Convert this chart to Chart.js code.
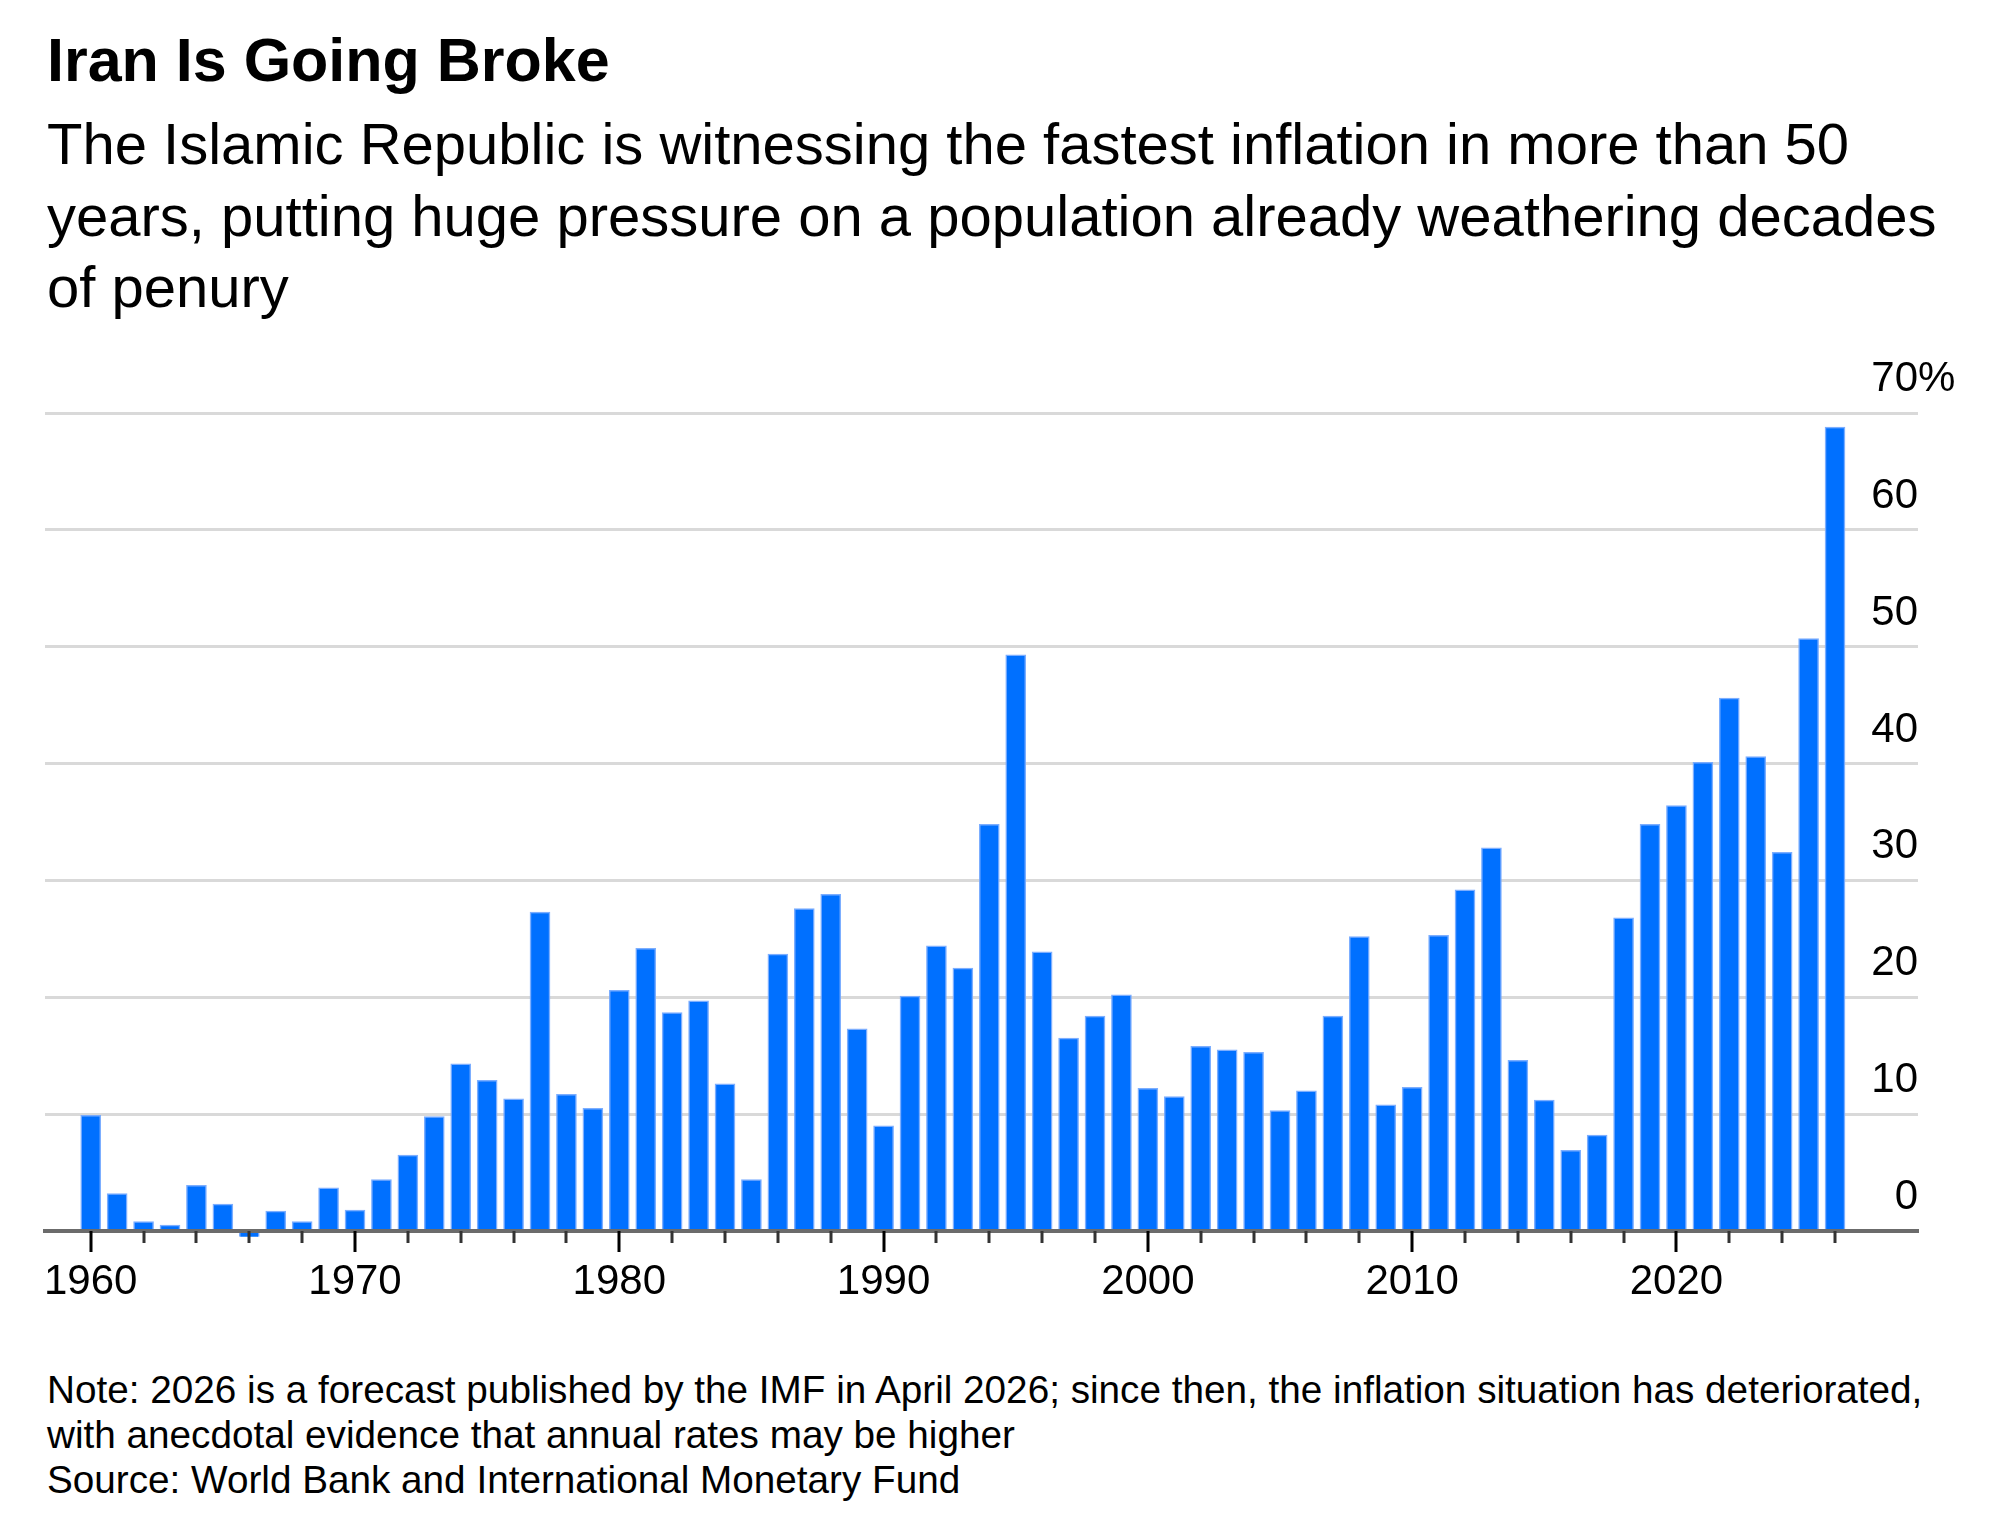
<!DOCTYPE html>
<html>
<head>
<meta charset="utf-8">
<title>Iran Is Going Broke</title>
<script src="https://cdn.jsdelivr.net/npm/chart.js@4.4.1/dist/chart.umd.min.js"></script>
<style>
    html, body {
        margin: 0;
        padding: 0;
        background: #ffffff;
    }
    body {
        width: 2000px;
        height: 1537px;
        position: relative;
        overflow: hidden;
        font-family: 'Liberation Sans', Arial, sans-serif;
        color: #000000;
    }
    .title {
        position: absolute;
        left: 47px;
        top: 30px;
        font-size: 61px;
        line-height: 61px;
        font-weight: bold;
        white-space: nowrap;
    }
    .subtitle {
        position: absolute;
        left: 47px;
        top: 108px;
        font-size: 58px;
        line-height: 71.5px;
        white-space: nowrap;
    }
    .footer {
        position: absolute;
        left: 47px;
        top: 1367px;
        font-size: 38.7px;
        line-height: 45px;
        white-space: nowrap;
    }
    #chartBox {
        position: absolute;
        left: 0;
        top: 330px;
        width: 2000px;
        height: 1010px;
    }
</style>
</head>
<body>
<div class="title">Iran Is Going Broke</div>
<div class="subtitle">The Islamic Republic is witnessing the fastest inflation in more than 50<br>years, putting huge pressure on a population already weathering decades<br>of penury</div>
<div id="chartBox"><canvas id="inflationChart" width="2000" height="1010"></canvas></div>
<div class="footer">Note: 2026 is a forecast published by the IMF in April 2026; since then, the inflation situation has deteriorated,<br>with anecdotal evidence that annual rates may be higher<br>Source: World Bank and International Monetary Fund</div>

<script>
// Data (annual inflation, %)
const years = [
    1960, 1961, 1962, 1963, 1964, 1965, 1966, 1967, 1968, 1969,
    1970, 1971, 1972, 1973, 1974, 1975, 1976, 1977, 1978, 1979,
    1980, 1981, 1982, 1983, 1984, 1985, 1986, 1987, 1988, 1989,
    1990, 1991, 1992, 1993, 1994, 1995, 1996, 1997, 1998, 1999,
    2000, 2001, 2002, 2003, 2004, 2005, 2006, 2007, 2008, 2009,
    2010, 2011, 2012, 2013, 2014, 2015, 2016, 2017, 2018, 2019,
    2020, 2021, 2022, 2023, 2024, 2025, 2026
];
const inflation = [
    9.9, 3.2, 0.8, 0.5, 3.9, 2.3, -0.5, 1.7, 0.8, 3.7,
    1.8, 4.4, 6.5, 9.8, 14.3, 12.9, 11.3, 27.3, 11.7, 10.5,
    20.6, 24.2, 18.7, 19.7, 12.6, 4.4, 23.7, 27.6, 28.8, 17.3,
    9.0, 20.1, 24.4, 22.5, 34.8, 49.3, 23.9, 16.5, 18.4, 20.2,
    12.2, 11.5, 15.8, 15.5, 15.3, 10.3, 12.0, 18.4, 25.2, 10.8,
    12.3, 25.3, 29.2, 32.8, 14.6, 11.2, 6.9, 8.2, 26.8, 34.8,
    36.4, 40.1, 45.6, 40.6, 32.4, 50.7, 68.8
];
// Labelled years on the x axis, and the years that get a tick mark
const decadeLabels = [1960, 1970, 1980, 1990, 2000, 2010, 2020];
const tickYears = [
    1960, 1962, 1964, 1966, 1968, 1970, 1972, 1974, 1976, 1978,
    1980, 1982, 1984, 1986, 1988, 1990, 1992, 1994, 1996, 1998,
    2000, 2002, 2004, 2006, 2008, 2010, 2012, 2014, 2016, 2018,
    2020, 2022, 2024, 2026
];
// Gridline values on the y axis
const yTicks = [0, 10, 20, 30, 40, 50, 60, 70];

const BAR_BLUE = '#0070ff';
const LABEL_FONT = "42px 'Liberation Sans', Arial, sans-serif";

/**
 * Draw the x tick marks (long at decades, short every other year)
 */
const tickMarksPlugin = {
    id: 'tickMarks',
    afterDraw(chart) {
        const ctx = chart.ctx;
        const xScale = chart.scales.x;
        const axisY = chart.chartArea.bottom;
        ctx.save();
        ctx.lineWidth = 3;
        tickYears.forEach(year => {
            const x = Math.round(xScale.getPixelForValue(year));
            const major = year % 10 === 0;
            ctx.strokeStyle = major ? '#000000' : '#333333';
            ctx.beginPath();
            ctx.moveTo(x, axisY);
            ctx.lineTo(x, axisY + (major ? 21 : 12));
            ctx.stroke();
        });
        ctx.restore();
    }
};

/**
 * Right-hand value labels, sitting just above each gridline
 */
const valueLabelsPlugin = {
    id: 'valueLabels',
    afterDraw(chart) {
        const ctx = chart.ctx;
        const yScale = chart.scales.y;
        const right = chart.chartArea.right;
        ctx.save();
        ctx.font = LABEL_FONT;
        ctx.fillStyle = '#000000';
        ctx.textBaseline = 'alphabetic';
        yTicks.forEach(v => {
            const y = yScale.getPixelForValue(v) - 22;
            ctx.textAlign = 'right';
            ctx.fillText(String(v), right, y);
            if (v === yTicks[yTicks.length - 1]) {
                ctx.textAlign = 'left';
                ctx.fillText('%', right, y);
            }
        });
        ctx.restore();
    }
};

function buildChart() {
    if (typeof Chart === 'undefined') {
        console.error('Chart.js library is not loaded');
        return;
    }
    const canvas = document.getElementById('inflationChart');
    const points = years.map((year, i) => ({ x: year, y: inflation[i] }));

    new Chart(canvas.getContext('2d'), {
        type: 'bar',
        data: {
            datasets: [{
                label: 'Inflation',
                data: points,
                backgroundColor: BAR_BLUE,
                borderColor: 'rgba(110, 165, 255, 0.9)',
                borderWidth: { top: 1.5, left: 1.5, right: 1.5, bottom: 0 },
                borderSkipped: 'start',
                barThickness: 20,
                clip: false
            }]
        },
        options: {
            responsive: false,
            animation: false,
            devicePixelRatio: 1,
            layout: {
                padding: { top: 83, left: 45, right: 82, bottom: 0 }
            },
            plugins: {
                legend: { display: false },
                tooltip: { enabled: false },
                title: { display: false }
            },
            scales: {
                x: {
                    type: 'linear',
                    min: 1958.27,
                    max: 2029.14,
                    offset: false,
                    grid: { display: false, offset: false },
                    border: { display: true, color: '#6b6b6b', width: 4, z: 1 },
                    afterBuildTicks: (scale) => {
                        scale.ticks = decadeLabels.map(v => ({ value: v }));
                    },
                    afterFit: (scale) => { scale.height = 109; },
                    ticks: {
                        autoSkip: false,
                        maxRotation: 0,
                        padding: 18,
                        color: '#000000',
                        font: { family: "'Liberation Sans', Arial, sans-serif", size: 42 },
                        callback: (value) => String(value)
                    }
                },
                y: {
                    type: 'linear',
                    position: 'right',
                    min: 0,
                    max: 70,
                    afterBuildTicks: (scale) => {
                        scale.ticks = yTicks.map(v => ({ value: v }));
                    },
                    afterFit: (scale) => { scale.width = 0; },
                    grid: { color: '#d9d9d9', lineWidth: 3, drawTicks: false },
                    border: { display: false },
                    ticks: { display: false }
                }
            }
        },
        plugins: [tickMarksPlugin, valueLabelsPlugin]
    });
}

buildChart();
</script>
</body>
</html>
